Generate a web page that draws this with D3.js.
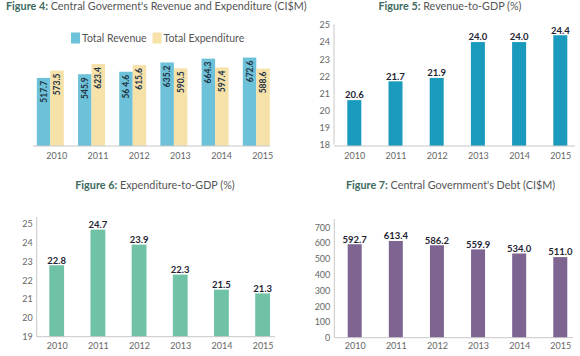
<!DOCTYPE html>
<html><head><meta charset="utf-8">
<script src="https://cdn.jsdelivr.net/npm/d3@7"></script>
<style>
html,body{margin:0;padding:0;background:#fff;}
svg{display:block;font-family:Lato,"Open Sans",sans-serif;}
</style></head><body>
<svg id="c" width="580" height="356"></svg>
<script>
const years = ["2010","2011","2012","2013","2014","2015"];
const revenue = [517.7, 545.9, 564.6, 635.2, 664.3, 672.6];
const expenditure = [573.5, 623.4, 615.6, 590.5, 597.4, 588.6];
const revenueLabels = ["517.7","545.9","56 4.6","635.2","664.3","672.6"];
const expenditureLabels = ["573.5","623.4","615.6","590.5","597.4","588.6"];
const revToGdp = [20.6, 21.7, 21.9, 24.0, 24.0, 24.4];
const expToGdp = [22.8, 24.7, 23.9, 22.3, 21.5, 21.3];
const debt = [592.7, 613.4, 586.2, 559.9, 534.0, 511.0];
const ticks5 = [18,19,20,21,22,23,24,25];
const ticks6 = [19,20,21,22,23,24,25];
const ticks7 = [0,100,200,300,400,500,600,700];
const seriesNames = ["Total Revenue","Total Expenditure"];

const svg = d3.select("#c");
const C = {rev:"#6dc1d8", exp:"#f6e1a9", r5:"#1a9abd", e6:"#70c2a7", d7:"#7e6591",
  axis:"#c8c8c8", tick:"#666", val:"#1e2433", fig:"#3c6a5e", title:"#555"};

function title(x, y, num, rest, anchor){
  const t = svg.append("text").attr("x", x).attr("y", y).attr("text-anchor", anchor)
    .attr("font-size", 10.8).attr("fill", C.title);
  t.append("tspan").attr("font-weight", "bold").attr("fill", C.fig).text("Figure " + num + ":");
  t.append("tspan").text(" " + rest);
}

function yAxis(g, scale, ticks, x, topY){
  g.append("line").attr("x1", x).attr("x2", x).attr("y1", topY).attr("y2", scale.range()[0])
    .attr("stroke", C.axis).attr("stroke-width", 1);
  const ax = d3.axisLeft(scale).tickValues(ticks).tickSize(0).tickPadding(4).tickFormat(d3.format("d"));
  const a = g.append("g").attr("transform", `translate(${x},0)`).call(ax);
  a.select(".domain").remove();
  a.selectAll("text").attr("font-size", 9).attr("fill", C.tick).attr("font-family", "Lato, sans-serif");
}

function xAxis(g, xs, y, x1, x2, labelY, dx){
  g.append("line").attr("x1", x1).attr("x2", x2).attr("y1", y).attr("y2", y)
    .attr("stroke", C.axis).attr("stroke-width", 1);
  const ax = d3.axisBottom(xs).tickSize(0).tickPadding(0);
  const a = g.append("g").attr("transform", `translate(${dx||0},${labelY})`).call(ax);
  a.select(".domain").remove();
  a.selectAll("text").attr("font-size", 9).attr("fill", C.tick).attr("dy", "0.35em")
    .attr("font-family", "Lato, sans-serif");
}

// ---------- Figure 4 ----------
title(6, 10, 4, "Central Goverment's Revenue and Expenditure (CI$M)", "start");
{
  const g = svg.append("g");
  const x = d3.scalePoint().domain(years).range([50.3, 256.3]);
  const inner = d3.scaleBand().domain(seriesNames).range([-13.5, 13.5]);
  const y = d3.scaleLinear().domain([0, 700]).range([146, 146 - 700 * 0.1315]);
  const lg = g.append("g");
  const lx = [71, 152.5];
  seriesNames.forEach((n, i) => {
    lg.append("rect").attr("x", lx[i]).attr("y", 32.5).attr("width", 9).attr("height", 11)
      .attr("fill", i === 0 ? C.rev : C.exp);
    lg.append("text").attr("x", lx[i] + 11).attr("y", 38.3).attr("dy", "0.35em")
      .attr("font-size", 10.5).attr("fill", C.title).text(n);
  });
  const sets = [[revenue, revenueLabels, C.rev, seriesNames[0]], [expenditure, expenditureLabels, C.exp, seriesNames[1]]];
  sets.forEach(([vals, labs, col, name]) => {
    g.selectAll(null).data(vals).enter().append("rect")
      .attr("x", (d, i) => x(years[i]) + inner(name))
      .attr("width", inner.bandwidth())
      .attr("y", d => y(d)).attr("height", d => y(0) - y(d)).attr("fill", col);
    g.selectAll(null).data(vals).enter().append("text")
      .attr("transform", (d, i) => `translate(${x(years[i]) + inner(name) + inner.bandwidth() / 2},${y(d) + 3}) rotate(-90)`)
      .attr("text-anchor", "end").attr("dy", "0.35em")
      .attr("font-size", 8.5).attr("font-weight", "bold").attr("fill", "#1f3446")
      .text((d, i) => labs[i]);
  });
  xAxis(g, x, 146, 33, 270, 155.5, 6);
}

// ---------- Figure 5 ----------
title(450, 10, 5, "Revenue-to-GDP (%)", "middle");
{
  const g = svg.append("g");
  const x = d3.scalePoint().domain(years).range([354.3, 560.3]);
  const y = d3.scaleLinear().domain([18, 25]).range([144.5, 25]);
  yAxis(g, y, ticks5, 334, 24);
  g.selectAll(null).data(revToGdp).enter().append("rect")
    .attr("x", (d, i) => x(years[i]) - 7).attr("width", 14)
    .attr("y", d => y(d)).attr("height", d => 146 - y(d)).attr("fill", C.r5);
  g.selectAll(null).data(revToGdp).enter().append("text")
    .attr("x", (d, i) => x(years[i])).attr("y", d => y(d) - 5).attr("text-anchor", "middle")
    .attr("dy", "0.35em").attr("font-size", 9.5).attr("font-weight", "bold").attr("fill", C.val)
    .text(d => d.toFixed(1));
  xAxis(g, x, 146, 334, 575, 155.5, 0);
}

// ---------- Figure 6 ----------
title(155, 189, 6, "Expenditure-to-GDP (%)", "middle");
{
  const g = svg.append("g");
  const x = d3.scalePoint().domain(years).range([56.7, 262.6]);
  const y = d3.scaleLinear().domain([19, 25]).range([336.5, 224]);
  yAxis(g, y, ticks6, 36.7, 217);
  g.selectAll(null).data(expToGdp).enter().append("rect")
    .attr("x", (d, i) => x(years[i]) - 7.4).attr("width", 14.8)
    .attr("y", d => y(d)).attr("height", d => 336.7 - y(d)).attr("fill", C.e6);
  g.selectAll(null).data(expToGdp).enter().append("text")
    .attr("x", (d, i) => x(years[i])).attr("y", d => y(d) - 5).attr("text-anchor", "middle")
    .attr("dy", "0.35em").attr("font-size", 9.5).attr("font-weight", "bold").attr("fill", C.val)
    .text(d => d.toFixed(1));
  xAxis(g, x, 336.7, 36.7, 275, 346, 0);
}

// ---------- Figure 7 ----------
title(450.5, 189, 7, "Central Government's Debt (CI$M)", "middle");
{
  const g = svg.append("g");
  const x = d3.scalePoint().domain(years).range([354.7, 560.3]);
  const y = d3.scaleLinear().domain([0, 700]).range([337.7, 227.3]);
  yAxis(g, y, ticks7, 334.3, 219);
  g.selectAll(null).data(debt).enter().append("rect")
    .attr("x", (d, i) => x(years[i]) - 7).attr("width", 14)
    .attr("y", d => y(d)).attr("height", d => y(0) - y(d)).attr("fill", C.d7);
  g.selectAll(null).data(debt).enter().append("text")
    .attr("x", (d, i) => x(years[i])).attr("y", d => y(d) - 5).attr("text-anchor", "middle")
    .attr("dy", "0.35em").attr("font-size", 9.5).attr("font-weight", "bold").attr("fill", C.val)
    .text(d => d.toFixed(1));
  xAxis(g, x, 337.7, 334.3, 573, 346, 0);
}
</script>
</body></html>
